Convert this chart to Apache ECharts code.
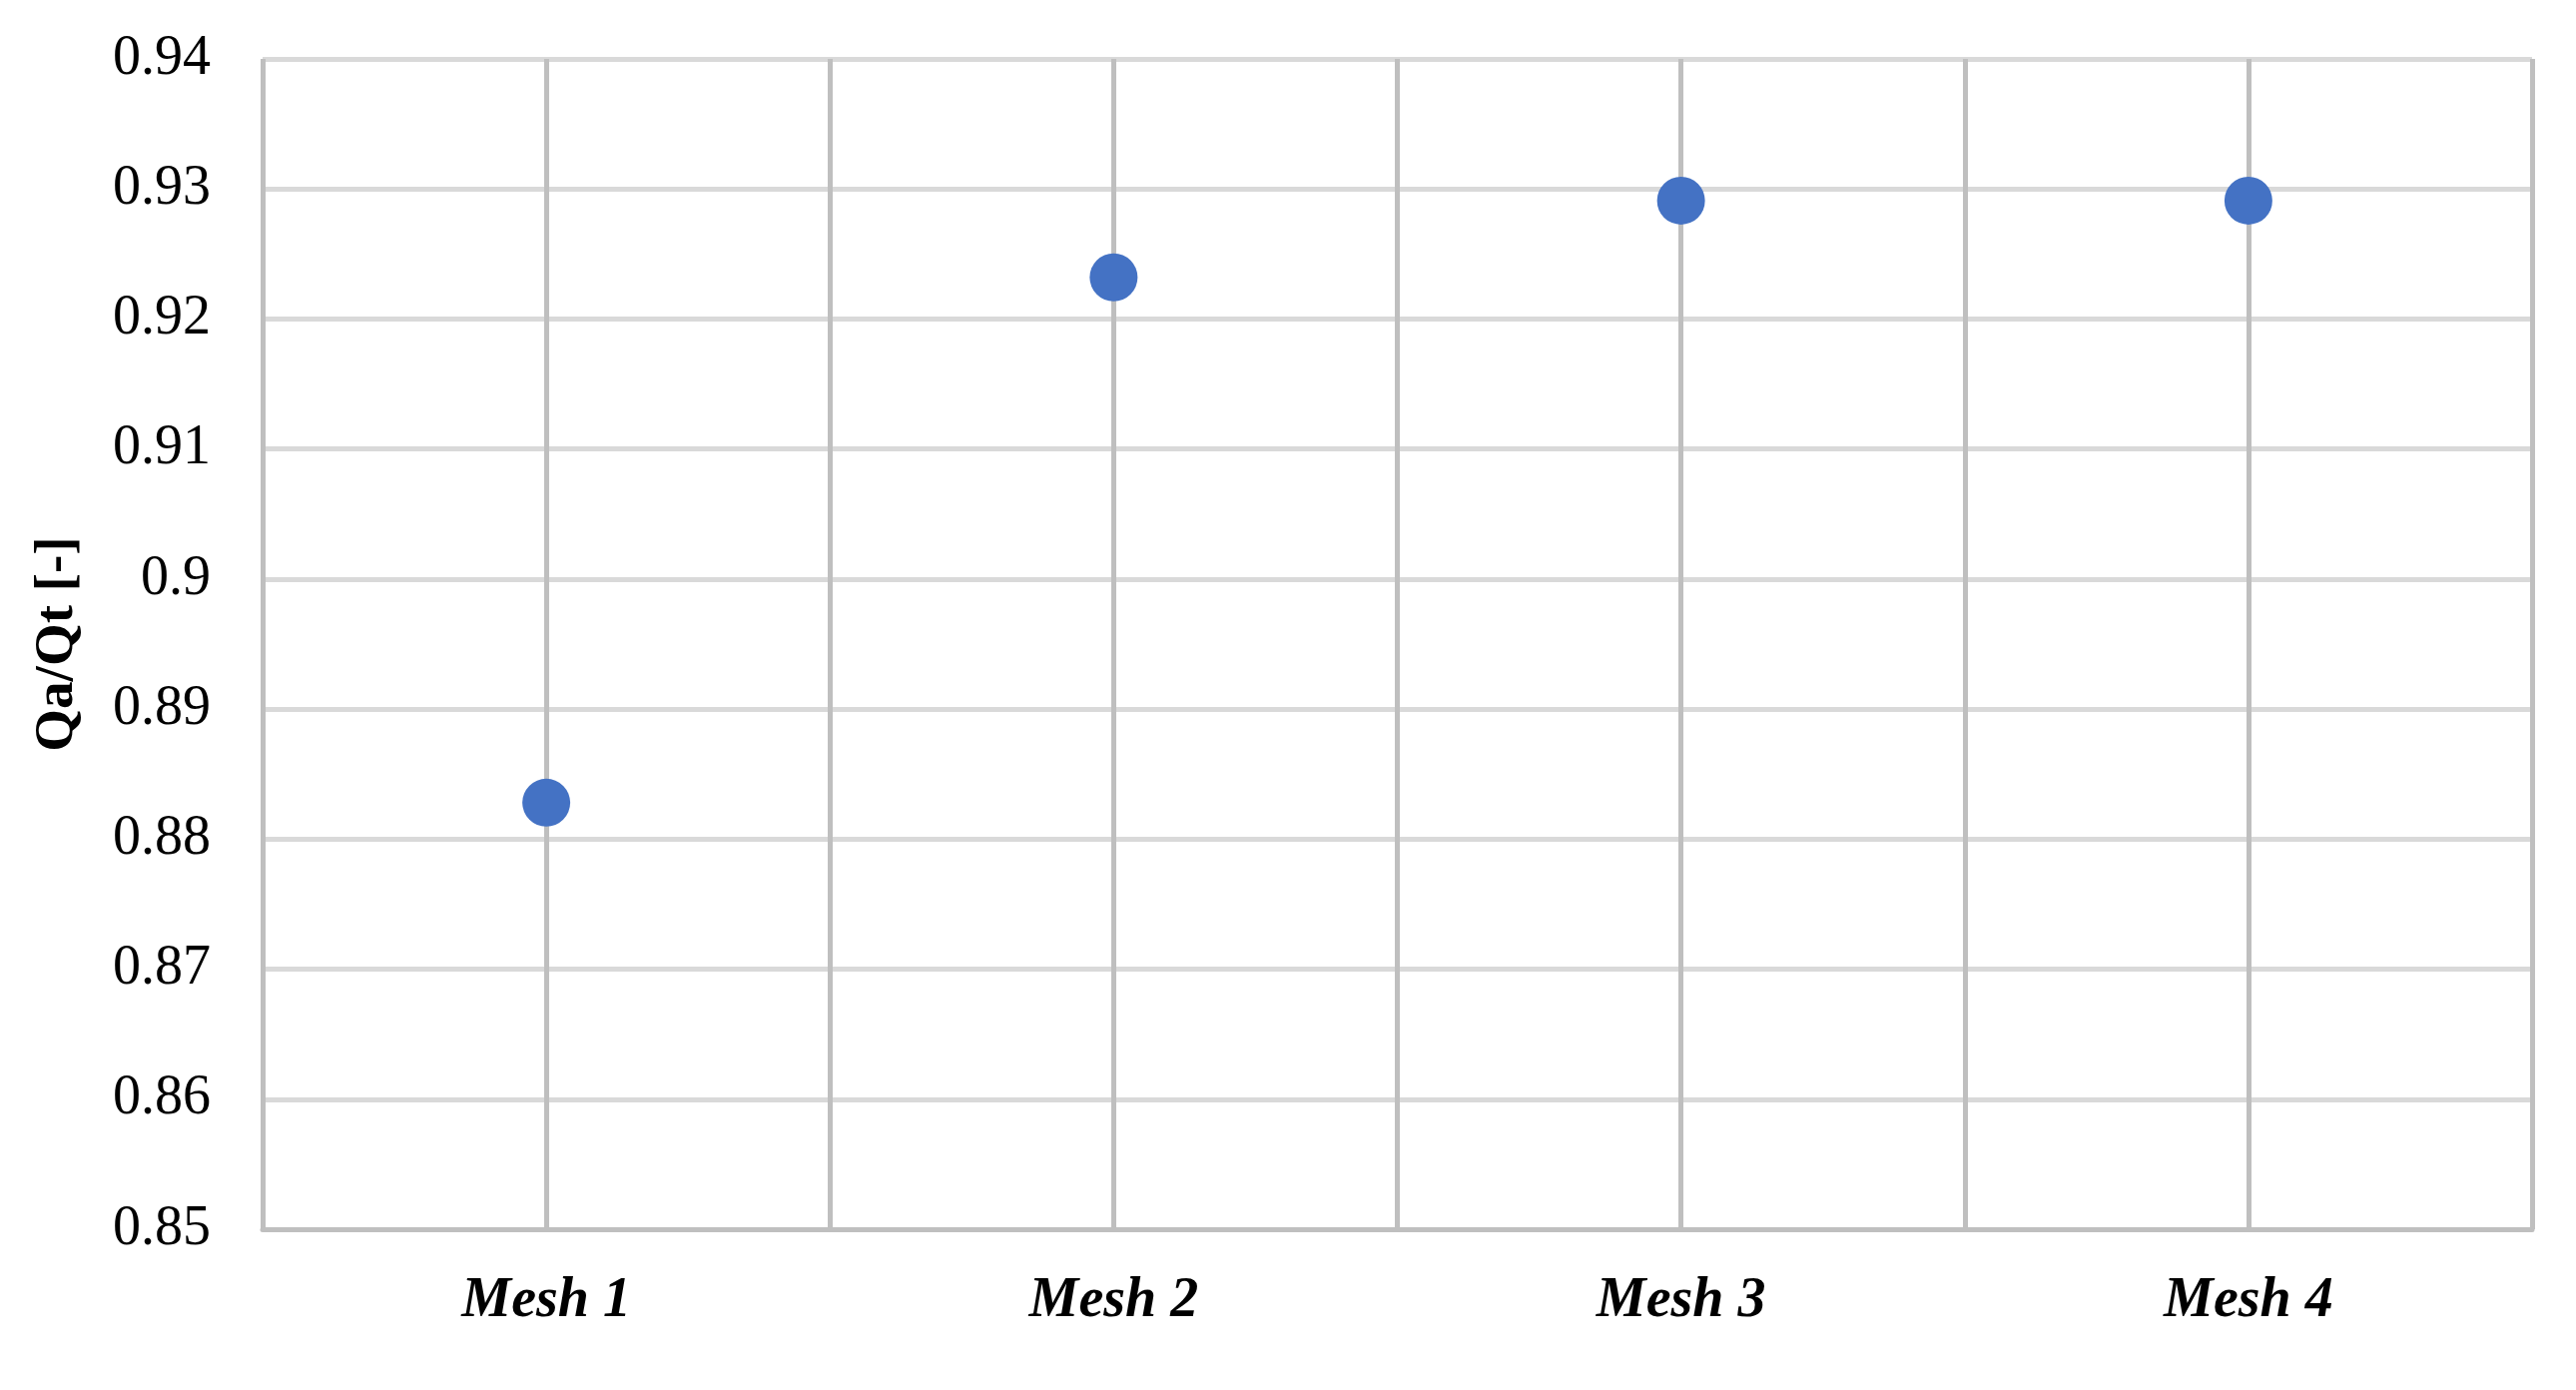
<!DOCTYPE html>
<html>
<head>
<meta charset="utf-8">
<script src="https://cdn.jsdelivr.net/npm/echarts@6/dist/echarts.min.js"></script>
<style>
  html, body { margin: 0; padding: 0; background: #ffffff; }
  #chart { width: 2580px; height: 1392px; }
</style>
</head>
<body>
<div id="chart"></div>
<script>
// datos del gráfico
var categories = ['Mesh 1', 'Mesh 2', 'Mesh 3', 'Mesh 4'];
var ratioValues = [0.8828, 0.9232, 0.9291, 0.9291];
var yName = 'Qa/Qt [-]';
var yMin = 0.85;
var yMax = 0.94;
var yStep = 0.01;

var chart = echarts.init(document.getElementById('chart'));

var option = {
    animation: false,
    backgroundColor: '#ffffff',
    grid: { left: 263, right: 44, top: 59, bottom: 161 },
    xAxis: {
        type: 'category',
        data: categories,
        boundaryGap: true,
        z: 1,
        axisLine: { lineStyle: { color: '#bfbfbf', width: 5 } },
        axisTick: { show: false },
        splitLine: { show: true, lineStyle: { color: '#bfbfbf', width: 5 } },
        axisLabel: {
            margin: 45,
            fontFamily: 'Liberation Serif',
            fontSize: 56,
            fontWeight: 'bold',
            fontStyle: 'italic',
            color: '#000000'
        }
    },
    yAxis: {
        type: 'value',
        min: yMin,
        max: yMax,
        interval: yStep,
        z: 0,
        name: yName,
        nameLocation: 'middle',
        nameGap: 178,
        nameTextStyle: {
            fontFamily: 'Liberation Serif',
            fontSize: 55,
            fontWeight: 'bold',
            color: '#000000'
        },
        axisLine: { show: false },
        axisTick: { show: false },
        splitLine: { show: true, lineStyle: { color: '#d9d9d9', width: 5 } },
        axisLabel: {
            margin: 52,
            fontFamily: 'Liberation Serif',
            fontSize: 56,
            color: '#000000',
            formatter: function (v) { return String(parseFloat(v.toFixed(2))); }
        }
    },
    series: [{
        type: 'scatter',
        data: ratioValues,
        symbol: 'circle',
        symbolSize: 48,
        z: 3,
        itemStyle: { color: '#4472c4', opacity: 1 },
        markLine: {
            silent: true,
            z: 1,
            symbol: 'none',
            label: { show: false },
            lineStyle: { color: '#bfbfbf', width: 5, type: 'solid' },
            data: categories.map(function (c) { return { xAxis: c }; })
        }
    }]
};

chart.setOption(option);
</script>
</body>
</html>
